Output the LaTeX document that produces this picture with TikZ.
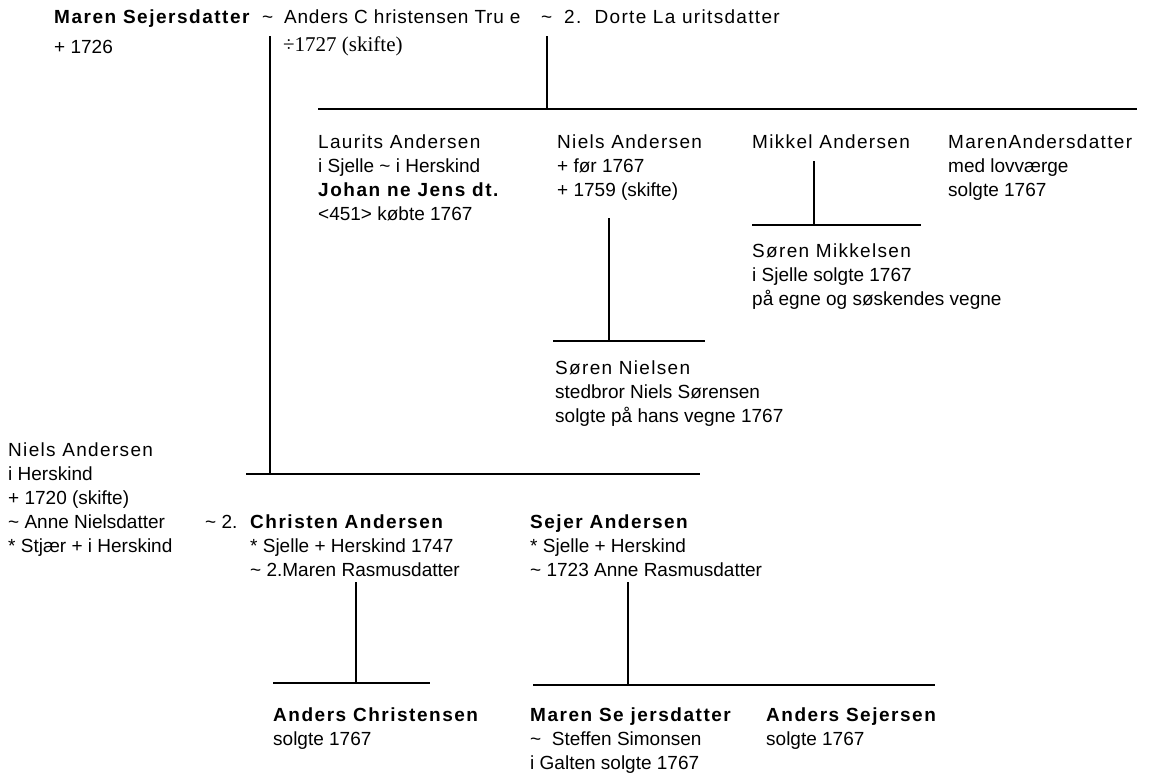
\documentclass[tikz,border=0pt]{standalone}
\usepackage{fontspec}
\setmainfont{Liberation Sans}
\newfontfamily\namef{Liberation Sans}[LetterSpace=7]
\newfontfamily\topf{Liberation Sans}[LetterSpace=4]
\newfontfamily\boldf{Liberation Sans Bold}[LetterSpace=8]
\newfontfamily\serifx{Liberation Serif}
\newcommand{\nm}[1]{{\namef #1}}
\newcommand{\bn}[1]{{\boldf #1}}
\newcommand{\tl}{\char"7E\relax}
\begin{document}
\begin{tikzpicture}[x=1pt,y=-1pt,
  txt/.style={anchor=north west,inner sep=0pt,align=left,font=\fontsize{19}{24}\selectfont},
  bar/.style={line width=2pt},
  stem/.style={line width=1.6pt}]
\useasboundingbox (0,0) rectangle (1150,779);
% top generation
\node[txt] (ms) at (54,10) {\bn{Maren Sejersdatter}\\[6pt]+ 1726};
\node[txt] (t1) at (262,10) {\vphantom{A}\tl};
\node[txt] (act) at (284,10) {{\topf Anders C hristensen Tru e}};
\node[txt] (actd) at (283,37) {\fontsize{21}{24}\selectfont\serifx ÷1727 (skifte)};
\node[txt] (t2) at (541,10) {\vphantom{A}\tl};
\node[txt] (dl) at (564,10) {\nm{2.\ \ Dorte La uritsdatter}};
% first children row
\node[txt] (la) at (318,135) {\nm{Laurits Andersen}\\i Sjelle \tl\ i Herskind\\\bn{Johan ne Jens dt.}\\<451> købte 1767};
\node[txt] (na) at (557,135) {\nm{Niels Andersen}\\+ før 1767\\+ 1759 (skifte)};
\node[txt] (mk) at (752,135) {\nm{Mikkel Andersen}};
\node[txt] (mad) at (948,135) {\nm{MarenAndersdatter}\\med lovværge\\solgte 1767};
\node[txt] (smk) at (752,244) {\nm{Søren Mikkelsen}\\i Sjelle solgte 1767\\på egne og søskendes vegne};
\node[txt] (sn) at (555,361) {\nm{Søren Nielsen}\\stedbror Niels Sørensen\\solgte på hans vegne 1767};
% left
\node[txt] (nia) at (8,443) {\nm{Niels Andersen}\\i Herskind\\+ 1720 (skifte)\\\tl\ Anne Nielsdatter\\* Stjær + i Herskind};
\node[txt] (t3) at (205,515) {\tl\ 2.};
% second children row
\node[txt] (ca) at (250,515) {\bn{Christen Andersen}\\* Sjelle + Herskind 1747\\\tl\ 2.Maren Rasmusdatter};
\node[txt] (sa) at (530,515) {\bn{Sejer Andersen}\\* Sjelle + Herskind\\\tl\ 1723 Anne Rasmusdatter};
\node[txt] (ac) at (273,708) {\bn{Anders Christensen}\\solgte 1767};
\node[txt] (msj) at (530,708) {\bn{Maren Se jersdatter}\\\tl\ \ Steffen Simonsen\\i Galten solgte 1767};
\node[txt] (as) at (766,708) {\bn{Anders Sejersen}\\solgte 1767};
% junction coordinates
\coordinate (v1top) at (270,36);
\coordinate (v2top) at (547,36);
\coordinate (h1l) at (318,109);
\coordinate (h1r) at (1137,109);
\coordinate (h1j) at (547,109);
\coordinate (h2l) at (246,474);
\coordinate (h2r) at (700,474);
\coordinate (h2j) at (270,474);
\coordinate (nat) at (609,218);
\coordinate (h3l) at (553,341);
\coordinate (h3r) at (705,341);
\coordinate (h3j) at (609,341);
\coordinate (mkt) at (814,161);
\coordinate (h4l) at (752,225);
\coordinate (h4r) at (921,225);
\coordinate (h4j) at (814,225);
\coordinate (cat) at (356,582);
\coordinate (h5l) at (273,683);
\coordinate (h5r) at (430,683);
\coordinate (h5j) at (356,683);
\coordinate (sat) at (628,582);
\coordinate (h6l) at (533,685);
\coordinate (h6r) at (935,685);
\coordinate (h6j) at (628,685);
% connectors
\draw[stem] (v1top) -- (h2j);
\draw[stem] (v2top) -- (h1j);
\draw[bar] (h1l) -- (h1r);
\draw[bar] (h2l) -- (h2r);
\draw[stem] (nat) -- (h3j);
\draw[bar] (h3l) -- (h3r);
\draw[stem] (mkt) -- (h4j);
\draw[bar] (h4l) -- (h4r);
\draw[stem] (cat) -- (h5j);
\draw[bar] (h5l) -- (h5r);
\draw[stem] (sat) -- (h6j);
\draw[bar] (h6l) -- (h6r);
\end{tikzpicture}
\end{document}
